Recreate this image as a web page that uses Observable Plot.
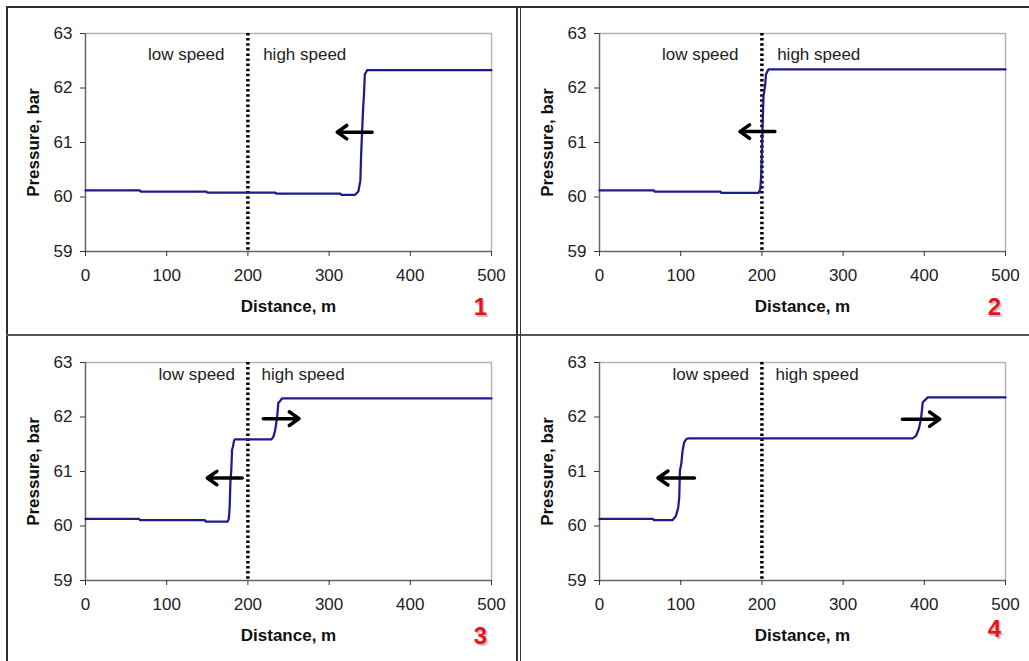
<!DOCTYPE html>
<html><head><meta charset="utf-8">
<script src="https://cdn.jsdelivr.net/npm/d3@7"></script>
<script src="https://cdn.jsdelivr.net/npm/@observablehq/plot@0.6"></script>
<style>
body{margin:0;background:#fff}
#fig{position:relative;width:1029px;height:661px;overflow:hidden;background:#fff}
.panel{position:absolute}
.b{position:absolute;background:#2e2e2e}
</style></head><body><div id="fig"></div>
<script>
// ---- data ----
const xTicks = [0, 100, 200, 300, 400, 500];
const yTicks = [59, 60, 61, 62, 63];
const boundary = 200;
const xLabel = "Distance, m";
const yLabel = "Pressure, bar";
const lowText = "low speed";
const highText = "high speed";

const dist1 = [0, 67, 68, 149, 150, 234, 235, 314, 315, 332, 336, 338.5, 339.5, 340.5, 342, 343, 344, 347, 500];
const pres1 = [60.12, 60.12, 60.10, 60.10, 60.08, 60.08, 60.06, 60.06, 60.04, 60.04, 60.1, 60.3, 60.8, 61.15, 61.65, 61.9, 62.25, 62.33, 62.33];

const dist2 = [0, 67, 68, 149, 150, 196, 198, 199, 200, 201, 202, 204, 205, 208, 500];
const pres2 = [60.12, 60.12, 60.10, 60.10, 60.075, 60.075, 60.15, 60.35, 60.8, 61.4, 61.85, 62.05, 62.25, 62.34, 62.34];

const dist3 = [0, 66, 67, 147, 148, 175, 176.5, 177.5, 178.5, 179.5, 180.5, 181.5, 183, 184, 229, 231.5, 233.5, 236, 237.5, 239.5, 242, 500];
const pres3 = [60.13, 60.13, 60.11, 60.11, 60.08, 60.08, 60.13, 60.34, 60.83, 61.01, 61.4, 61.45, 61.57, 61.59, 61.59, 61.64, 61.75, 62.0, 62.26, 62.29, 62.34, 62.34];

const dist4 = [0, 66, 67, 90, 94, 97, 98.2, 99, 100.7, 102.3, 104.4, 107.2, 110.5, 386, 390, 393.2, 396, 398.1, 400.2, 404.3, 500];
const pres4 = [60.13, 60.13, 60.11, 60.11, 60.18, 60.34, 60.52, 61.01, 61.14, 61.38, 61.54, 61.6, 61.61, 61.61, 61.66, 61.78, 61.97, 62.27, 62.3, 62.36, 62.36];

// wave-front arrows (from, to, pressure level)
const arrows1 = [{from: 353, to: 310, p: 61.19}];
const arrows2 = [{from: 216, to: 173, p: 61.2}];
const arrows3 = [{from: 193, to: 150, p: 60.88}, {from: 219, to: 263, p: 61.97}];
const arrows4 = [{from: 117, to: 72, p: 60.88}, {from: 373, to: 419, p: 61.96}];

// region annotations (distance, pressure)
const notes12 = [{t: lowText, d: 124, p: 62.62}, {t: highText, d: 270, p: 62.62}];
const notes34 = [{t: lowText, d: 137, p: 62.77}, {t: highText, d: 268, p: 62.77}];

const panelNames = ["1", "2", "3", "4"];

// ---- drawing ----
const font = "'Liberation Sans', Arial, Helvetica, sans-serif";

function panel(dist, pres, arrows, notes, name, numDy) {
  const rows = dist.map((d, i) => ({d, p: pres[i]}));
  return Plot.plot({
    width: 514, height: 329,
    marginLeft: 85, marginRight: 23, marginTop: 33, marginBottom: 78,
    style: {fontFamily: font, fontSize: "17px", color: "#222", background: "transparent", overflow: "visible"},
    x: {domain: [0, 500]},
    y: {domain: [59, 63]},
    marks: [
      Plot.ruleY([63], {stroke: "#b4b4b4", strokeWidth: 1.5}),
      Plot.ruleX([500], {stroke: "#b4b4b4", strokeWidth: 1.5}),
      Plot.ruleX([0], {stroke: "#666", strokeWidth: 1.5}),
      Plot.ruleY([59], {stroke: "#666", strokeWidth: 1.5}),
      Plot.axisX({ticks: xTicks, tickFormat: "d", tickSize: 5, tickPadding: 12, label: null, fontSize: 17, stroke: "#333"}),
      Plot.axisY({ticks: yTicks, tickFormat: "d", tickSize: 5, tickPadding: 8, label: null, fontSize: 17, stroke: "#333"}),
      Plot.ruleX([boundary], {stroke: "#000", strokeWidth: 3.5, strokeDasharray: "2.5,2.6"}),
      Plot.line(rows, {x: "d", y: "p", stroke: "#1c1c8c", strokeWidth: 2.25}),
      Plot.arrow(arrows, {x1: "from", x2: "to", y1: "p", y2: "p", stroke: "#000", strokeWidth: 3.5, headLength: 10, headAngle: 70}),
      Plot.text(notes, {x: "d", y: "p", text: "t", fontSize: 17, fill: "#222", lineAnchor: "middle"}),
      Plot.text([xLabel], {text: d => d, frameAnchor: "bottom", dy: 55, fontWeight: "bold", fontSize: 17, fill: "#111", lineAnchor: "middle"}),
      Plot.text([yLabel], {text: d => d, frameAnchor: "left", dx: -52, rotate: -90, textAnchor: "middle", lineAnchor: "middle", fontWeight: "bold", fontSize: 17, fill: "#111"}),
      Plot.text([name], {text: d => d, frameAnchor: "bottom-right", dx: -9.5, dy: numDy + 1.5, textAnchor: "middle", lineAnchor: "middle", fontWeight: "bold", fontSize: 24, fill: "#aaa", fillOpacity: 0.7}),
      Plot.text([name], {text: d => d, frameAnchor: "bottom-right", dx: -11, dy: numDy, textAnchor: "middle", lineAnchor: "middle", fontWeight: "bold", fontSize: 24, fill: "#e8141c"})
    ]
  });
}

const fig = document.getElementById("fig");
const specs = [
  [dist1, pres1, arrows1, notes12, panelNames[0], 56, 0, 0],
  [dist2, pres2, arrows2, notes12, panelNames[1], 56, 514, 0],
  [dist3, pres3, arrows3, notes34, panelNames[2], 56, 0, 329],
  [dist4, pres4, arrows4, notes34, panelNames[3], 49, 514, 329]
];
for (const [d, p, a, n, name, dy, left, top] of specs) {
  const svg = panel(d, p, a, n, name, dy);
  svg.classList.add("panel");
  svg.style.left = left + "px";
  svg.style.top = top + "px";
  svg.style.position = "absolute";
  fig.appendChild(svg);
}
// table borders
function border(l, t, w, h, c) {
  const e = document.createElement("div");
  e.className = "b";
  Object.assign(e.style, {left: l + "px", top: t + "px", width: w + "px", height: h + "px"});
  if (c) e.style.background = c;
  fig.appendChild(e);
}
border(6, 6, 1023, 2);
border(6, 6, 2, 655);
border(6, 334, 1023, 2, "#555");
border(516, 6, 1.5, 655, "#333");
border(519.5, 6, 1.5, 655, "#333");
</script></body></html>
